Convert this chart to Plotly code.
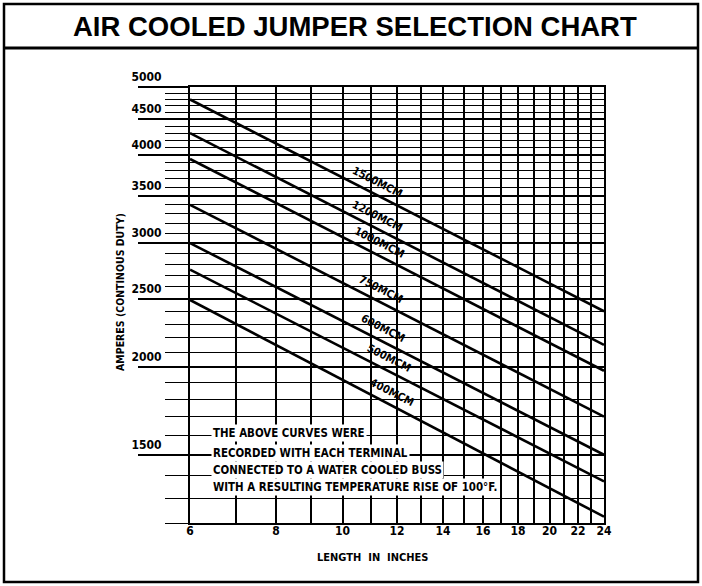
import numpy as np
import plotly.graph_objects as go

# ---------------- data ----------------
length_in = [6, 24]
cable_sizes = ["1500MCM", "1200MCM", "1000MCM", "750MCM", "600MCM", "500MCM", "400MCM"]
amps_at_6in = [4800, 4300, 3950, 3400, 3000, 2750, 2490]
amps_at_24in = [2400, 2150, 1975, 1700, 1500, 1375, 1225]

x_tick_vals = [6, 8, 10, 12, 14, 16, 18, 20, 22, 24]
x_grid_minor = [7, 9, 11, 13, 15, 17, 19, 21, 23]
y_tick_vals = [1500, 2000, 2500, 3000, 3500, 4000, 4500, 5000]
y_grid_minor = list(range(1200, 5001, 100))
y_short_ticks = list(range(1250, 2000, 100))

note_lines = [
    "THE ABOVE CURVES WERE",
    "RECORDED WITH EACH TERMINAL",
    "CONNECTED TO A WATER COOLED BUSS",
    "WITH A RESULTING TEMPERATURE RISE OF 100\u00b0F.",
]

# ---------------- layout helpers ----------------
W, H = 702, 586
L, R, T, B = 190, 604, 87, 523


def px(x):
    return (x - L) / (R - L)


def py(y):
    return (B - y) / (B - T)


NARROW = "DejaVu Sans Condensed, Liberation Sans, sans-serif"
label_x = [11.26, 11.26, 11.3, 11.37, 11.45, 11.7, 11.8]

fig = go.Figure()
for name, a6, a24 in zip(cable_sizes, amps_at_6in, amps_at_24in):
    fig.add_trace(go.Scatter(x=length_in, y=[a6, a24], mode="lines",
                             line=dict(color="black", width=2.6),
                             name=name, showlegend=False, hoverinfo="skip"))

annotations = []
for name, a6, a24, lx in zip(cable_sizes, amps_at_6in, amps_at_24in, label_x):
    k = np.log(a24 / a6) / np.log(length_in[1] / length_in[0])
    yv = a6 * (lx / length_in[0]) ** k
    annotations.append(dict(x=np.log10(lx), y=np.log10(yv), xref="x", yref="y",
                            xanchor="center", yanchor="middle",
                            text=name, showarrow=False, textangle=27, yshift=13,
                            font=dict(family=NARROW, size=11, color="black", weight="bold")))

for i, line in enumerate(note_lines):
    yc = [433, 453, 470, 487][i]
    annotations.append(dict(x=px(211), y=py(yc), xref="paper", yref="paper",
                            xanchor="left", yanchor="middle", text=line, showarrow=False,
                            bgcolor="white", borderpad=1,
                            font=dict(family=NARROW, size=11.4, color="black", weight="bold")))

annotations.append(dict(x=px(355), y=py(27), xref="paper", yref="paper", text="AIR COOLED JUMPER SELECTION CHART",
                        xanchor="center", yanchor="middle",
                        showarrow=False, font=dict(family="Liberation Sans, Arial, sans-serif", size=27.5,
                                                   color="black", weight="bold")))
annotations.append(dict(x=px(120), y=py(292), xref="paper", yref="paper", text="AMPERES (CONTINOUS DUTY)",
                        xanchor="center", yanchor="middle",
                        showarrow=False, textangle=-90,
                        font=dict(family=NARROW, size=10.5, color="black", weight="bold")))
annotations.append(dict(x=px(372), y=py(557), xref="paper", yref="paper",
                        xanchor="center", yanchor="middle",
                        text="LENGTH\u00a0 IN\u00a0 INCHES", showarrow=False,
                        font=dict(family=NARROW, size=11, color="black", weight="bold")))

shapes = [
    dict(type="rect", xref="paper", yref="paper", x0=px(4), x1=px(698), y0=py(582), y1=py(4),
         line=dict(color="black", width=2.5)),
    dict(type="line", xref="paper", yref="paper", x0=px(4), x1=px(698), y0=py(48), y1=py(48),
         line=dict(color="black", width=3)),
]

fig.update_layout(
    width=W, height=H,
    margin=dict(l=L, r=W - R, t=T, b=H - B),
    paper_bgcolor="white", plot_bgcolor="white",
    showlegend=False,
    annotations=annotations, shapes=shapes,
    xaxis=dict(type="log", range=[np.log10(6), np.log10(24)],
               tickmode="array", tickvals=x_tick_vals, ticktext=[str(v) for v in x_tick_vals],
               ticks="", showgrid=True, gridcolor="black", gridwidth=1.6,
               minor=dict(tickvals=x_grid_minor, showgrid=True, gridcolor="black", gridwidth=1.6, ticks=""),
               showline=True, mirror=True, linecolor="black", linewidth=2, zeroline=False,
               ticklabelstandoff=-4,
               tickfont=dict(family=NARROW, size=12, color="black", weight="bold")),
    yaxis=dict(type="log", range=[np.log10(1200), np.log10(5000)],
               tickmode="array", tickvals=y_tick_vals, ticktext=[str(v) for v in y_tick_vals],
               ticks="outside", ticklen=50, tickwidth=1.6, tickcolor="black",
               showgrid=True, gridcolor="black", gridwidth=1.6,
               minor=dict(tickvals=y_grid_minor, showgrid=True, gridcolor="black", gridwidth=1.3,
                          ticks="outside", ticklen=23, tickwidth=1.3, tickcolor="black"),
               ticklabelstandoff=-26, ticklabelshift=-10,
               showline=True, mirror=True, linecolor="black", linewidth=2, zeroline=False,
               tickfont=dict(family=NARROW, size=12, color="black", weight="bold")),
    yaxis2=dict(type="log", range=[np.log10(1200), np.log10(5000)], overlaying="y", anchor="x", side="left",
                tickmode="array", tickvals=y_short_ticks, ticks="outside", ticklen=12, tickwidth=1.3,
                tickcolor="black", showticklabels=False, showgrid=False, showline=False, zeroline=False),
)

fig.write_html("out.html", config={"displayModeBar": False},
               post_script="document.body.style.margin='0px';")
